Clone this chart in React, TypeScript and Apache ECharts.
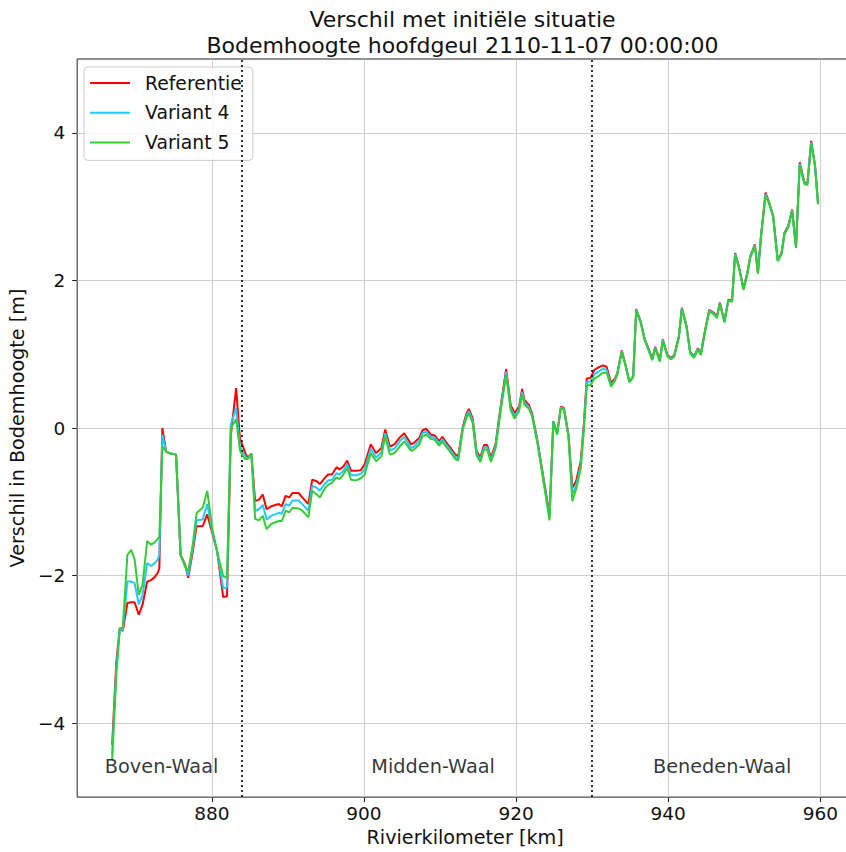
import React, { useEffect, useRef } from 'react';
import * as echarts from 'echarts';

const titleLine1 = 'Verschil met initiële situatie';
const titleLine2 = 'Bodemhoogte hoofdgeul 2110-11-07 00:00:00';
const xAxisName = 'Rivierkilometer [km]';
const yAxisName = 'Verschil in Bodemhoogte [m]';
const seriesNames = ['Referentie', 'Variant 4', 'Variant 5'];
const seriesColors = ['#ff0000', '#22c8ff', '#35cd35'];
const xTicks = [880, 900, 920, 940, 960];
const yTicks = [-4, -2, 0, 2, 4];
const boundaries = [884, 930];
const regionNames = ['Boven-Waal', 'Midden-Waal', 'Beneden-Waal'];
const regionKm = [873.4, 909.1, 947.1];
const regionLevel = [-4.58, -4.58, -4.58];

const km = [
  866.9, 867.45, 867.9, 868.3, 868.9, 869.4, 869.85, 870.4, 870.9, 871.5,
  872.0, 872.5, 872.9, 873.1, 873.5, 874.0, 874.4, 874.9, 875.3, 875.9,
  876.5, 876.9, 877.5, 878.0, 878.8, 879.4, 880.1, 880.7, 881.5, 882.0,
  882.5, 883.2, 883.7, 884.1, 884.4, 884.7, 885.2, 885.7, 886.2, 886.7,
  887.2, 887.8, 888.8, 889.2, 889.7, 890.2, 890.6, 891.4, 891.9, 892.7,
  893.2, 893.8, 894.2, 894.9, 895.3, 895.8, 896.4, 896.8, 897.3, 897.8,
  898.3, 899.0, 899.6, 900.1, 900.9, 901.6, 902.3, 902.8, 903.4, 904.0,
  904.7, 905.3, 906.2, 906.6, 907.3, 907.7, 908.2, 908.8, 909.3, 909.9,
  910.3, 911.0, 911.4, 912.0, 912.4, 913.0, 913.5, 913.8, 914.3, 914.8,
  915.3, 915.8, 916.2, 916.7, 917.3, 918.0, 918.7, 919.3, 919.8, 920.4,
  920.8, 921.1, 921.7, 922.1, 922.8, 923.6, 924.4, 924.9, 925.4, 925.9,
  926.3, 926.9, 927.4, 927.9, 928.5, 928.9, 929.3, 929.8, 930.3, 930.8,
  931.4, 931.9, 932.5, 933.0, 933.3, 933.9, 934.4, 934.9, 935.4, 935.8,
  936.4, 936.9, 937.4, 937.9, 938.3, 938.9, 939.3, 939.9, 940.4, 940.8,
  941.4, 941.8, 942.4, 942.9, 943.4, 943.9, 944.3, 944.8, 945.4, 946.0,
  946.4, 946.8, 947.4, 947.9, 948.4, 948.8, 949.3, 949.9, 950.4, 950.8,
  951.4, 951.8, 952.2, 952.8, 953.3, 953.8, 954.4, 954.9, 955.3, 955.8,
  956.3, 956.8, 957.3, 957.9, 958.3, 958.8, 959.3, 959.7,
];

const referentie = [
  -4.29, -3.16, -2.71, -2.75, -2.37, -2.36, -2.36, -2.53, -2.39, -2.08,
  -2.06, -2.02, -1.96, -1.90, 0.00, -0.32, -0.34, -0.35, -0.36, -1.72,
  -1.85, -2.03, -1.67, -1.33, -1.33, -1.17, -1.44, -1.67, -2.29, -2.28,
  -0.10, 0.54, -0.15, -0.25, -0.34, -0.40, -0.35, -0.99, -0.97, -0.90,
  -1.10, -1.06, -1.03, -1.06, -0.92, -0.94, -0.88, -0.88, -0.94, -1.03,
  -0.70, -0.72, -0.76, -0.67, -0.63, -0.63, -0.53, -0.56, -0.52, -0.44,
  -0.58, -0.58, -0.57, -0.49, -0.22, -0.34, -0.27, -0.02, -0.25, -0.22,
  -0.13, -0.07, -0.22, -0.20, -0.13, -0.03, -0.01, -0.09, -0.10, -0.18,
  -0.12, -0.22, -0.27, -0.36, -0.38, 0.02, 0.20, 0.26, 0.13, -0.31,
  -0.40, -0.23, -0.23, -0.40, -0.22, 0.31, 0.80, 0.31, 0.20, 0.29,
  0.53, 0.38, 0.31, 0.20, -0.16, -0.67, -1.17, 0.09, -0.07, 0.29,
  0.27, -0.09, -0.81, -0.72, -0.45, 0.04, 0.67, 0.68, 0.79, 0.82,
  0.85, 0.83, 0.61, 0.67, 0.74, 1.05, 0.85, 0.63, 0.70, 1.61,
  1.44, 1.21, 1.08, 0.94, 1.10, 0.92, 1.20, 0.99, 0.95, 0.99,
  1.24, 1.63, 1.39, 1.03, 0.97, 1.08, 1.01, 1.30, 1.60, 1.56,
  1.51, 1.70, 1.45, 1.74, 1.73, 2.37, 2.19, 1.89, 2.10, 2.33,
  2.49, 2.11, 2.60, 3.19, 3.05, 2.88, 2.28, 2.37, 2.65, 2.74,
  2.96, 2.46, 3.60, 3.33, 3.31, 3.89, 3.57, 3.05,
];

const variant4 = [
  -4.42, -3.25, -2.72, -2.74, -2.08, -2.08, -2.10, -2.39, -2.26, -1.83,
  -1.87, -1.83, -1.78, -1.72, -0.09, -0.32, -0.34, -0.35, -0.36, -1.72,
  -1.87, -2.00, -1.62, -1.25, -1.24, -1.03, -1.42, -1.67, -2.17, -2.16,
  0.05, 0.27, -0.25, -0.33, -0.38, -0.42, -0.35, -1.12, -1.10, -1.04,
  -1.24, -1.19, -1.15, -1.16, -1.03, -1.05, -0.98, -0.98, -1.03, -1.12,
  -0.78, -0.81, -0.85, -0.75, -0.71, -0.70, -0.61, -0.63, -0.58, -0.49,
  -0.64, -0.64, -0.62, -0.56, -0.28, -0.40, -0.33, -0.07, -0.30, -0.28,
  -0.18, -0.12, -0.27, -0.25, -0.17, -0.07, -0.05, -0.12, -0.13, -0.21,
  -0.15, -0.25, -0.30, -0.39, -0.41, 0.00, 0.17, 0.23, 0.10, -0.34,
  -0.43, -0.26, -0.26, -0.43, -0.25, 0.28, 0.76, 0.27, 0.16, 0.26,
  0.49, 0.35, 0.28, 0.18, -0.18, -0.70, -1.21, 0.08, -0.08, 0.28,
  0.26, -0.11, -0.90, -0.78, -0.50, 0.00, 0.62, 0.63, 0.73, 0.76,
  0.80, 0.79, 0.58, 0.65, 0.73, 1.04, 0.85, 0.63, 0.70, 1.60,
  1.43, 1.20, 1.07, 0.93, 1.09, 0.91, 1.19, 0.98, 0.94, 0.98,
  1.23, 1.62, 1.38, 1.02, 0.96, 1.07, 1.00, 1.29, 1.59, 1.55,
  1.50, 1.69, 1.44, 1.73, 1.72, 2.36, 2.18, 1.88, 2.09, 2.32,
  2.48, 2.10, 2.59, 3.17, 3.04, 2.87, 2.27, 2.36, 2.64, 2.73,
  2.95, 2.45, 3.58, 3.32, 3.30, 3.87, 3.56, 3.04,
];

const variant5 = [
  -4.49, -3.34, -2.72, -2.70, -1.72, -1.65, -1.78, -2.26, -2.12, -1.53,
  -1.58, -1.55, -1.50, -1.47, -0.25, -0.32, -0.34, -0.35, -0.36, -1.72,
  -1.88, -1.94, -1.58, -1.15, -1.08, -0.85, -1.38, -1.67, -2.01, -2.03,
  0.00, 0.12, -0.30, -0.38, -0.42, -0.42, -0.35, -1.23, -1.25, -1.19,
  -1.37, -1.30, -1.26, -1.26, -1.12, -1.14, -1.08, -1.09, -1.12, -1.21,
  -0.85, -0.90, -0.94, -0.81, -0.77, -0.74, -0.67, -0.69, -0.63, -0.54,
  -0.70, -0.71, -0.68, -0.63, -0.34, -0.45, -0.38, -0.11, -0.36, -0.34,
  -0.25, -0.18, -0.31, -0.29, -0.22, -0.11, -0.09, -0.15, -0.16, -0.24,
  -0.18, -0.28, -0.33, -0.42, -0.44, -0.02, 0.14, 0.20, 0.07, -0.37,
  -0.46, -0.29, -0.29, -0.46, -0.28, 0.25, 0.72, 0.24, 0.13, 0.23,
  0.46, 0.32, 0.26, 0.16, -0.20, -0.72, -1.25, 0.07, -0.09, 0.27,
  0.25, -0.13, -0.99, -0.83, -0.55, -0.05, 0.58, 0.58, 0.67, 0.70,
  0.75, 0.75, 0.56, 0.64, 0.72, 1.03, 0.84, 0.62, 0.69, 1.59,
  1.42, 1.19, 1.06, 0.92, 1.08, 0.90, 1.18, 0.97, 0.93, 0.97,
  1.22, 1.61, 1.37, 1.01, 0.95, 1.06, 0.99, 1.28, 1.58, 1.54,
  1.49, 1.68, 1.43, 1.72, 1.71, 2.35, 2.17, 1.87, 2.08, 2.31,
  2.47, 2.09, 2.58, 3.15, 3.03, 2.86, 2.26, 2.35, 2.63, 2.72,
  2.94, 2.44, 3.56, 3.31, 3.29, 3.85, 3.55, 3.03,
];

const FONT = '"DejaVu Sans", "Liberation Sans", sans-serif';
const fmtMinus = (v: number) => (v < 0 ? '\u2212' + Math.abs(v) : String(v));

const CHART_W = 862;
const CHART_H = 852;

function buildOption() {
  const allValues = [referentie, variant4, variant5];
  const lineSeries = allValues.map((vals, i) => ({
    name: seriesNames[i],
    type: 'line',
    data: km.map((x, j) => [x, vals[j]]),
    symbol: 'none',
    showSymbol: false,
    clip: true,
    color: seriesColors[i],
    lineStyle: { color: seriesColors[i], width: 2 },
    z: 3 + i,
    ...(i === 2
      ? {
          markLine: {
            silent: true,
            symbol: ['none', 'none'],
            label: { show: false },
            lineStyle: { color: '#000', width: 1.6, type: [2, 3] },
            data: boundaries.map((b) => ({ xAxis: b })),
          },
        }
      : {}),
  }));

  const regionSeries = {
    name: 'regions',
    type: 'scatter',
    symbol: 'circle',
    symbolSize: 1,
    itemStyle: { color: 'rgba(0,0,0,0)' },
    silent: true,
    z: 10,
    label: {
      show: true,
      position: 'inside',
      formatter: '{b}',
      color: '#000',
      textBorderWidth: 0,
      fontFamily: FONT,
      fontSize: 19.3,
    },
    data: regionNames.map((n, i) => ({ name: n, value: [regionKm[i], regionLevel[i]] })),
  };

  return {
    animation: false,
    backgroundColor: '#ffffff',
    textStyle: { fontFamily: FONT },
    graphic: [
      {
        type: 'text',
        x: 462.5,
        y: 19,
        style: {
          text: titleLine1,
          fontFamily: FONT,
          fontSize: 22,
          fill: '#111',
          align: 'center',
          verticalAlign: 'middle',
        },
      },
      {
        type: 'text',
        x: 462.5,
        y: 45,
        style: {
          text: titleLine2,
          fontFamily: FONT,
          fontSize: 22,
          fill: '#111',
          align: 'center',
          verticalAlign: 'middle',
        },
      },
    ],
    grid: {
      left: 72,
      right: CHART_W - 853,
      top: 59,
      bottom: 51,
      show: true,
      borderColor: '#222',
      borderWidth: 1,
      backgroundColor: 'transparent',
      containLabel: false,
    },
    legend: {
      data: seriesNames,
      orient: 'vertical',
      left: 84,
      top: 67,
      padding: [6, 11, 8, 6],
      icon: 'rect',
      itemWidth: 40,
      itemHeight: 2,
      itemGap: 9.7,
      backgroundColor: 'rgba(255,255,255,0.8)',
      borderColor: '#cccccc',
      borderWidth: 1,
      borderRadius: 4,
      textStyle: {
        fontFamily: FONT,
        fontSize: 18.8,
        color: '#111',
        lineHeight: 20,
        padding: [0, 0, 0, 10],
      },
    },
    xAxis: {
      type: 'value',
      min: 862.3,
      max: 964.3,
      name: xAxisName,
      nameLocation: 'middle',
      nameGap: 25,
      nameTextStyle: { fontFamily: FONT, fontSize: 19.2, color: '#111' },
      axisLine: { show: false, onZero: false },
      axisTick: { show: true, length: 5, lineStyle: { color: '#222' }, customValues: xTicks },
      axisLabel: {
        customValues: xTicks,
        margin: 7,
        fontFamily: FONT,
        fontSize: 18.5,
        color: '#111',
        formatter: (v: number) => fmtMinus(v),
      },
      splitLine: { show: true, lineStyle: { color: '#cfcfcf', width: 1 } },
    },
    yAxis: {
      type: 'value',
      min: -5,
      max: 5,
      name: yAxisName,
      nameLocation: 'middle',
      nameGap: 31,
      nameTextStyle: { fontFamily: FONT, fontSize: 19.2, color: '#111' },
      axisLine: { show: false, onZero: false },
      axisTick: { show: true, length: 5, lineStyle: { color: '#222' }, customValues: yTicks },
      axisLabel: {
        customValues: yTicks,
        margin: 12,
        fontFamily: FONT,
        fontSize: 18.5,
        color: '#111',
        formatter: (v: number) => fmtMinus(v),
      },
      splitLine: { show: true, lineStyle: { color: '#cfcfcf', width: 1 } },
    },
    series: [...lineSeries, regionSeries],
  };
}

export default function App() {
  const ref = useRef<HTMLDivElement>(null);
  useEffect(() => {
    if (!ref.current) return;
    const chart = echarts.init(ref.current, null, { renderer: 'svg' });
    chart.setOption(buildOption() as any);
    return () => chart.dispose();
  }, []);
  return (
    <div
      style={{
        position: 'absolute',
        left: 0,
        top: 0,
        width: 846,
        height: CHART_H,
        overflow: 'hidden',
        background: '#fff',
      }}
    >
      <div ref={ref} style={{ width: CHART_W, height: CHART_H }} />
    </div>
  );
}
